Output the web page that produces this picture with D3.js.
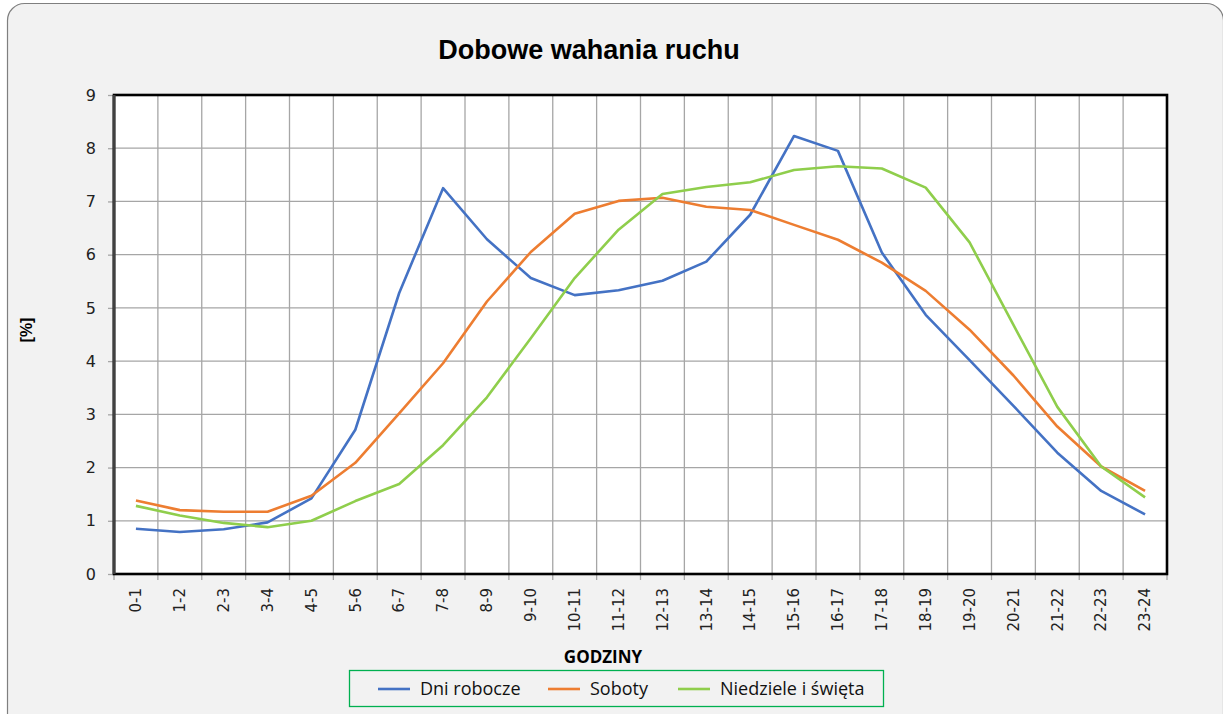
<!DOCTYPE html>
<meta charset="utf-8">
<html>
<head>
<title>Dobowe wahania ruchu</title>
<script src="https://d3js.org/d3.v7.min.js"></script>
</head>
<style>
  body {margin: 0; background: #fff; font-family: "Liberation Sans", Arial, sans-serif;}
  .grid line {stroke: #a6a6a6; stroke-width: 1.3px;}
  .axis text {font: 15px "DejaVu Sans", Verdana, sans-serif; fill: #222;}
  .axis.y text {font-size: 16px;}
  .line {fill: none; stroke-width: 2.6px; stroke-linejoin: round;}
</style>
<body>
<svg id="chart" width="1223" height="714"></svg>
<script>
var hours = ["0-1","1-2","2-3","3-4","4-5","5-6","6-7","7-8","8-9","9-10","10-11","11-12",
             "12-13","13-14","14-15","15-16","16-17","17-18","18-19","19-20","20-21","21-22","22-23","23-24"];

var dniRobocze = [0.85,0.79,0.84,0.97,1.42,2.71,5.28,7.25,6.29,5.56,5.24,5.33,
                  5.51,5.87,6.75,8.23,7.95,6.04,4.87,4.02,3.16,2.28,1.56,1.12];
var soboty = [1.38,1.20,1.17,1.17,1.47,2.09,3.02,3.96,5.12,6.05,6.77,7.01,
              7.07,6.90,6.84,6.56,6.28,5.85,5.32,4.59,3.73,2.77,2.02,1.56];
var niedziele = [1.28,1.10,0.96,0.88,1.00,1.37,1.69,2.42,3.32,4.43,5.56,6.47,
                 7.14,7.27,7.36,7.59,7.66,7.62,7.26,6.23,4.68,3.14,2.02,1.44];

var yTicks = [0,1,2,3,4,5,6,7,8,9];

var series = [
  {name: "Dni robocze", values: dniRobocze, color: "#4472c4"},
  {name: "Soboty", values: soboty, color: "#ed7d31"},
  {name: "Niedziele i święta", values: niedziele, color: "#8fce4c"}
];

var svg = d3.select("#chart"),
    margin = {top: 95, right: 56, bottom: 140, left: 114},
    width = 1167 - margin.left,
    height = 574 - margin.top;

// outer chart frame
svg.append("rect")
    .attr("x", 7.5).attr("y", 3.5)
    .attr("width", 1216).attr("height", 740)
    .attr("rx", 17)
    .attr("fill", "#f2f2f2")
    .attr("stroke", "#7f7f7f")
    .attr("stroke-width", 1.2);

svg.append("text")
    .attr("x", 589).attr("y", 59)
    .attr("text-anchor", "middle")
    .style("font", "bold 27px 'Liberation Sans', Arial, sans-serif")
    .text("Dobowe wahania ruchu");

var x = d3.scaleBand().domain(hours).range([0, width]);
var y = d3.scaleLinear().domain([0, 9]).range([height, 0]);

var g = svg.append("g")
    .attr("transform", "translate(" + margin.left + "," + margin.top + ")");

g.append("rect")
    .attr("width", width).attr("height", height)
    .attr("fill", "#fff");

// gridlines
var grid = g.append("g").attr("class", "grid");
grid.selectAll(".h").data(yTicks.slice(1, -1)).enter().append("line")
    .attr("x1", 0).attr("x2", width)
    .attr("y1", function(d) { return y(d); })
    .attr("y2", function(d) { return y(d); });
grid.selectAll(".v").data(hours.slice(1)).enter().append("line")
    .attr("x1", function(d) { return x(d); })
    .attr("x2", function(d) { return x(d); })
    .attr("y1", 0).attr("y2", height);

// axes
var yAxis = g.append("g")
    .attr("class", "axis y")
    .call(d3.axisLeft(y).tickValues(yTicks).tickSize(6).tickPadding(12));
yAxis.select(".domain").remove();
yAxis.selectAll(".tick line").attr("stroke", "#a6a6a6").attr("stroke-width", 1.3);

var xAxis = g.append("g")
    .attr("class", "axis")
    .attr("transform", "translate(0," + height + ")")
    .call(d3.axisBottom(x).tickSize(0));
xAxis.select(".domain").remove();
xAxis.selectAll(".tick text")
    .attr("transform", "rotate(-90)")
    .attr("text-anchor", "end")
    .attr("x", -14).attr("y", 0).attr("dy", "0.35em");

// x tick marks on category boundaries
g.append("g").selectAll("line")
    .data(hours.concat(["end"])).enter().append("line")
    .attr("x1", function(d, i) { return i * x.bandwidth(); })
    .attr("x2", function(d, i) { return i * x.bandwidth(); })
    .attr("y1", height).attr("y2", height + 6)
    .attr("stroke", "#a6a6a6").attr("stroke-width", 1.3);

// plot border
g.append("rect")
    .attr("width", width).attr("height", height)
    .attr("fill", "none")
    .attr("stroke", "#000").attr("stroke-width", 2.6);
g.append("line")
    .attr("x1", 0).attr("x2", 0).attr("y1", 0).attr("y2", height)
    .attr("stroke", "#404040").attr("stroke-width", 3);

var line = d3.line()
    .x(function(d, i) { return x(hours[i]) + x.bandwidth() / 2; })
    .y(function(d) { return y(d); });

g.selectAll(".line").data(series).enter().append("path")
    .attr("class", "line")
    .attr("stroke", function(d) { return d.color; })
    .attr("d", function(d) { return line(d.values); });

// axis titles
svg.append("text")
    .attr("transform", "translate(32,330) rotate(-90)")
    .attr("text-anchor", "middle")
    .style("font", "bold 16px 'Liberation Sans', Arial, sans-serif")
    .text("[%]");

svg.append("text")
    .attr("x", 603).attr("y", 663)
    .attr("text-anchor", "middle")
    .style("font", "bold 17px 'Open Sans', Arial, sans-serif")
    .text("GODZINY");

// legend
svg.append("rect")
    .attr("x", 349.5).attr("y", 670.5)
    .attr("width", 534).attr("height", 36)
    .attr("fill", "#f2f2f2")
    .attr("stroke", "#00b050").attr("stroke-width", 1.3);

var legendX = [378, 548, 678];
var legend = svg.selectAll(".legend").data(series).enter().append("g")
    .attr("transform", function(d, i) { return "translate(" + legendX[i] + ",689)"; });
legend.append("line")
    .attr("x1", 0).attr("x2", 32)
    .attr("stroke", function(d) { return d.color; })
    .attr("stroke-width", 2.6);
legend.append("text")
    .attr("x", 42).attr("dy", "0.35em")
    .style("font", "18px 'Open Sans', Arial, sans-serif")
    .style("fill", "#111")
    .text(function(d) { return d.name; });
</script>
</body>
</html>
